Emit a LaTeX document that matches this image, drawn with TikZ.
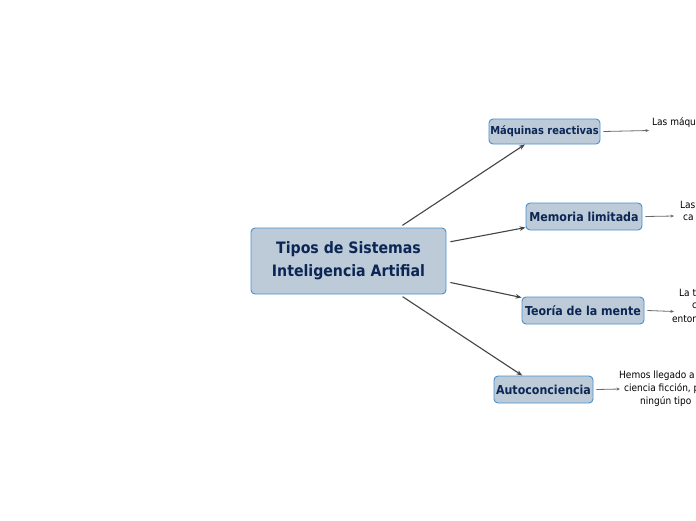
\documentclass[tikz,border=0pt]{standalone}
\usepackage{fontspec}
\setmainfont{DejaVu Sans Condensed}
\usetikzlibrary{arrows.meta}
\definecolor{boxfill}{HTML}{BCCBD7}
\definecolor{boxline}{HTML}{4A90D0}
\definecolor{boxtext}{HTML}{0B2655}
\definecolor{linecol}{HTML}{444444}
\begin{document}
\begin{tikzpicture}[x=1pt,y=-1pt,
  mainbox/.style={draw=boxline, fill=boxfill, rounded corners=4pt, line width=0.9pt,
    text=boxtext, align=center, inner sep=0pt, font=\bfseries\fontsize{15.7}{23}\selectfont},
  subbox/.style={draw=boxline, fill=boxfill, rounded corners=4pt, line width=0.9pt,
    text=boxtext, inner sep=0pt, font=\bfseries\fontsize{12.3}{15}\selectfont},
  conn/.style={draw=linecol, line width=1.1pt, -{Stealth[length=6pt,width=4.5pt]}, shorten <=4pt},
  small/.style={draw=linecol!80, line width=0.8pt, -{Stealth[length=3.5pt,width=3pt]}},
  desc/.style={anchor=west, inner sep=0pt, text=black, font=\fontsize{10}{13}\selectfont}]
\useasboundingbox (0,0) rectangle (696,520);
\clip (0,0) rectangle (696,520);
\fill[white] (0,0) rectangle (696,520);
% main node
\node[mainbox, minimum width=195pt, minimum height=66pt] (root) at (348.5,261) {Tipos de Sistemas\\Inteligencia Artifial};
% children
\node[subbox, minimum width=111pt, minimum height=25pt, font=\bfseries\fontsize{11}{15}\selectfont] (mr) at (544.5,131.5) {Máquinas reactivas};
\node[subbox, minimum width=116pt, minimum height=27pt] (ml) at (584,216.5) {Memoria limitada};
\node[subbox, minimum width=122pt, minimum height=27pt] (tm) at (583,310.5) {Teoría de la mente};
\node[subbox, minimum width=99pt, minimum height=27pt] (ac) at (543.5,389.5) {Autoconciencia};
% connectors
\draw[conn] (root) -- (mr);
\draw[conn] (root) -- (ml);
\draw[conn] (root) -- (tm);
\draw[conn] (root) -- (ac);
% descriptions
\node[desc] (d1) at (652,123) {Las máqu};
\node[desc] (d2a) at (680,205) {Las};
\node[desc] (d2b) at (683,218) {ca};
\node[desc] (d3a) at (679,293) {La t};
\node[desc] (d3b) at (692,306) {c};
\node[desc] (d3c) at (672,319) {entor};
\node[desc] (d4a) at (619,376) {Hemos llegado a};
\node[desc] (d4b) at (624,389) {ciencia ficción, p};
\node[desc] (d4c) at (640,402) {ningún tipo};
% small arrows
\coordinate (e1) at (649,130.5);
\coordinate (e2) at (674,216);
\coordinate (e3) at (674,311.5);
\coordinate (e4) at (620,389);
\draw[small] ([xshift=3pt]mr.east) -- (e1);
\draw[small] ([xshift=3pt]ml.east) -- (e2);
\draw[small] ([xshift=3pt]tm.east) -- (e3);
\draw[small] ([xshift=3pt]ac.east) -- (e4);
\end{tikzpicture}
\end{document}
